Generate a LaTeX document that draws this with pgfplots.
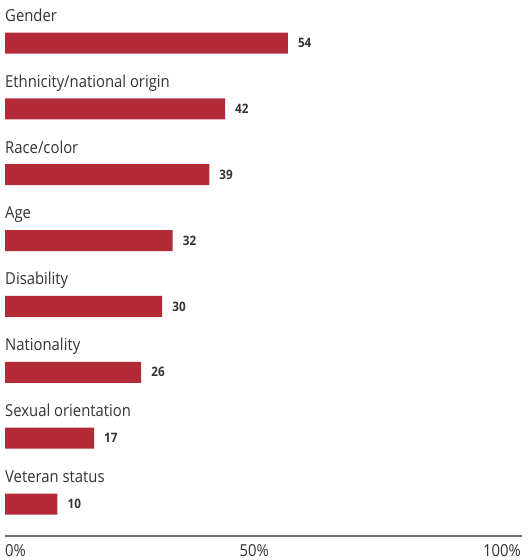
\documentclass[border=0pt]{standalone}
\usepackage{fontspec}
\setmainfont{Open Sans}[FakeStretch=0.9]
\usepackage{pgfplots}
\pgfplotsset{compat=1.18}
\definecolor{barred}{HTML}{B22A35}
\definecolor{txt}{HTML}{333333}
\definecolor{axisgray}{HTML}{707070}
\tikzset{catlab/.style={anchor=base west, inner sep=0pt, text=txt, font=\fontsize{16.5bp}{18bp}\selectfont, yshift=21.6bp}}
\tikzset{ticklab/.style={inner sep=0pt, text=txt, font=\fontsize{16.5bp}{18bp}\selectfont, yshift=-20bp}}
\begin{document}
\begin{tikzpicture}
\useasboundingbox (-5bp,-24bp) rectangle (527bp,536bp);
\begin{axis}[
  at={(0,0)}, anchor=south west,
  scale only axis, width=517bp, height=536bp,
  xmin=0, xmax=98.7, ymin=-0.653, ymax=7.486,
  y dir=reverse,
  axis x line*=bottom, axis y line=none,
  x axis line style={-, draw=axisgray, line width=1.3bp},
  xtick=\empty, ytick=\empty,
  xbar, bar width=21bp, clip=false,
  /pgf/number format/assume math mode=true,
  nodes near coords,
  nodes near coords style={anchor=west, inner sep=0pt, xshift=10bp, font=\fontsize{13bp}{15bp}\selectfont\bfseries, text=txt},
]
\addplot[fill=barred, draw=none] coordinates {
(54,0) (42,1) (39,2) (32,3) (30,4) (26,5) (17,6) (10,7)};
\node[catlab] at (axis cs:0,0) {Gender};
\node[catlab] at (axis cs:0,1) {Ethnicity/national origin};
\node[catlab] at (axis cs:0,2) {Race/color};
\node[catlab] at (axis cs:0,3) {Age};
\node[catlab] at (axis cs:0,4) {Disability};
\node[catlab] at (axis cs:0,5) {Nationality};
\node[catlab] at (axis cs:0,6) {Sexual orientation};
\node[catlab] at (axis cs:0,7) {Veteran status};
\node[ticklab, anchor=base west] at (axis cs:0,7.486) {0\%};
\node[ticklab, anchor=base] at (axis cs:47.6,7.486) {50\%};
\node[ticklab, anchor=base east] at (axis cs:98.5,7.486) {100\%};
\end{axis}
\end{tikzpicture}
\end{document}
